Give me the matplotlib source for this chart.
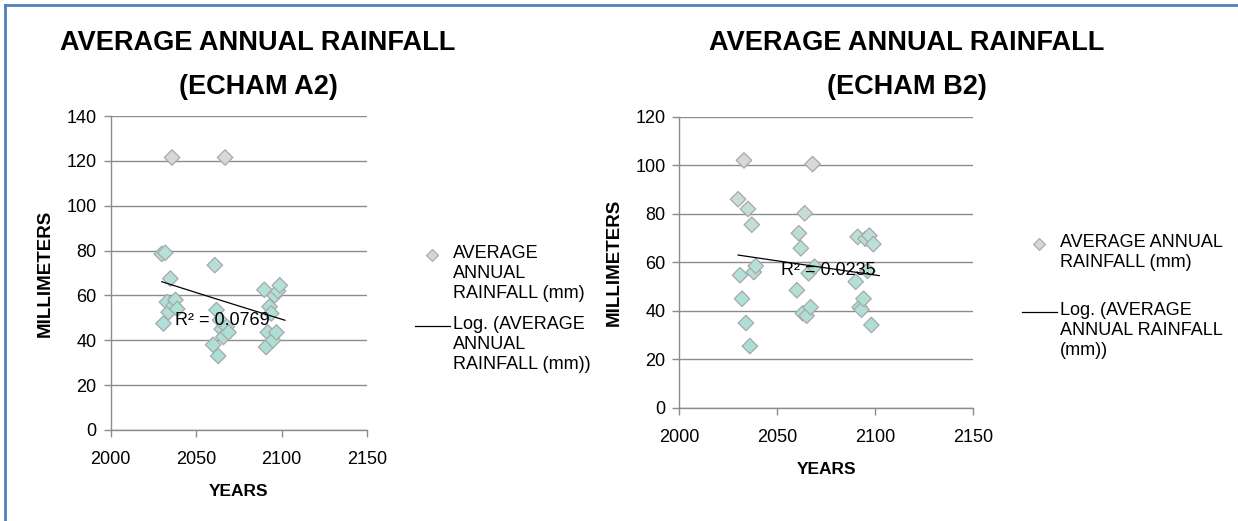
import numpy as np
import matplotlib
matplotlib.use('Agg')
import matplotlib.pyplot as plt
from matplotlib.colors import LinearSegmentedColormap
from matplotlib.lines import Line2D

plt.rcParams['font.family'] = ['Liberation Sans', 'DejaVu Sans']

# ---- data ----
YEARS = [2030, 2031, 2032, 2033, 2034, 2035, 2036, 2037, 2038, 2039,
         2060, 2061, 2062, 2063, 2064, 2065, 2066, 2067, 2068, 2069,
         2090, 2091, 2092, 2093, 2094, 2095, 2096, 2097, 2098, 2099]

RAIN_A2 = [78.5, 47.5, 79, 57, 52.5, 67.5, 121.5, 55.5, 58, 54,
           38, 73.5, 53.5, 33, 49, 45, 41.5, 121.5, 46, 43.5,
           62.5, 37, 43.5, 55, 52, 40, 60, 43.5, 62, 64.5]

RAIN_B2 = [86, 54.7, 45, 102, 35, 82, 25.5, 75.5, 56, 58.5,
           48.5, 72, 65.8, 39, 80.2, 38, 55.5, 41.5, 100.5, 58.2,
           52, 70.5, 41.5, 40.5, 45, 69.7, 56.5, 71, 34.2, 67.5]

R2_A2 = "R² = 0.0769"
R2_B2 = "R² = 0.0235"

marker_cmap = LinearSegmentedColormap.from_list("mk", ["#abdfd6", "#b6e0d8", "#d8d8d8"])
GRID = "#8c8c8c"

fig = plt.figure(figsize=(12.38, 5.21), dpi=100)


def draw(ax, years, vals, ymax, ystep, r2, r2_xy):
    ax.set_xlim(2000, 2150)
    ax.set_ylim(0, ymax)
    ax.set_xticks([2000, 2050, 2100, 2150])
    ax.set_yticks(np.arange(0, ymax + 1, ystep))
    for s in ['top', 'right']:
        ax.spines[s].set_visible(False)
    for s in ['left', 'bottom']:
        ax.spines[s].set_color(GRID)
        ax.spines[s].set_linewidth(1)
    ax.tick_params(colors=GRID, labelcolor='black', labelsize=13, length=5, width=1, pad=5)
    ax.tick_params(axis='x', pad=10)
    ax.yaxis.grid(True, color=GRID, linewidth=1)
    ax.set_axisbelow(True)

    v = np.array(vals, dtype=float)
    x = np.array(years, dtype=float)
    cols = marker_cmap((v - v.min()) / (v.max() - v.min()))
    ax.scatter(x, v, marker='D', s=62, c=cols, edgecolors='#a8a8a8', linewidths=0.9, zorder=3)

    # logarithmic trend line
    a, b = np.polyfit(np.log(x), v, 1)
    xx = np.linspace(x.min(), x.max() + 3, 100)
    ax.plot(xx, a * np.log(xx) + b, color='black', linewidth=0.9, zorder=4)

    ax.text(r2_xy[0], r2_xy[1], r2, fontsize=13, ha='left', va='center', zorder=5)
    ax.set_xlabel("YEARS", fontsize=12.5, fontweight='bold', labelpad=12)
    ax.set_ylabel("MILLIMETERS", fontsize=13.5, fontweight='bold', labelpad=9)


W, H = 1238, 521

axA = fig.add_axes([110.5 / W, 1 - 430 / H, (367 - 110.5) / W, (430 - 116) / H])
draw(axA, YEARS, RAIN_A2, 140, 20, R2_A2, (2038, 49))

axB = fig.add_axes([679.3 / W, 1 - 408 / H, (973.3 - 679.3) / W, (408 - 116.7) / H])
draw(axB, YEARS, RAIN_B2, 120, 20, R2_B2, (2052, 56.5))

# titles
fig.text(258 / W, 1 - 65 / H, "AVERAGE ANNUAL RAINFALL\n(ECHAM A2)", fontsize=19.5,
         fontweight='bold', ha='center', va='center', linespacing=1.95)
fig.text(907 / W, 1 - 65 / H, "AVERAGE ANNUAL RAINFALL\n(ECHAM B2)", fontsize=19.5,
         fontweight='bold', ha='center', va='center', linespacing=1.95)


def legend(mx, my, lines1, ly, lines2):
    fig.add_artist(Line2D([mx / W], [1 - my / H], marker='D', markersize=6.5,
                          markerfacecolor='#cfd8d6', markeredgecolor='#a8a8a8',
                          markeredgewidth=0.8, linestyle='none'))
    fig.text((mx + 21) / W, 1 - (my - 10) / H, lines1, fontsize=13, ha='left', va='top',
             linespacing=1.22)
    fig.add_artist(Line2D([(mx - 17) / W, (mx + 18) / W], [1 - ly / H, 1 - ly / H],
                          color='black', linewidth=0.9))
    fig.text((mx + 21) / W, 1 - (ly - 10) / H, lines2, fontsize=13, ha='left', va='top',
             linespacing=1.22)


legend(432, 255, "AVERAGE\nANNUAL\nRAINFALL (mm)", 326, "Log. (AVERAGE\nANNUAL\nRAINFALL (mm))")
legend(1039, 244, "AVERAGE ANNUAL\nRAINFALL (mm)", 312, "Log. (AVERAGE\nANNUAL RAINFALL\n(mm))")

# frame (top and left edges)
fig.add_artist(Line2D([5 / W, 1], [1 - 5 / H, 1 - 5 / H], color='#4f81bd', linewidth=2))
fig.add_artist(Line2D([5 / W, 5 / W], [0, 1 - 5 / H], color='#4f81bd', linewidth=2))

fig.savefig("out.png", dpi=100)
